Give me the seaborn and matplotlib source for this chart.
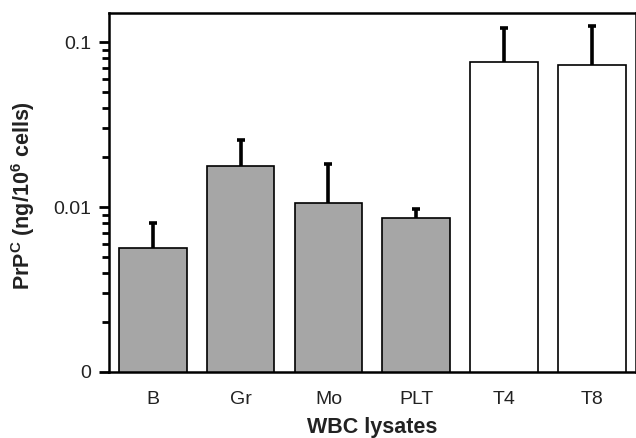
import matplotlib
matplotlib.use("Agg")
import matplotlib.pyplot as plt
import seaborn as sns
import numpy as np
import pandas as pd
from matplotlib.ticker import FixedLocator, LogLocator, NullFormatter, FixedFormatter

categories = ["B", "Gr", "Mo", "PLT", "T4", "T8"]
means = [0.00565, 0.0177, 0.0106, 0.00857, 0.0757, 0.0726]
upper = [0.0080, 0.0255, 0.0182, 0.0097, 0.1216, 0.125]
colors = ["#a6a6a6", "#a6a6a6", "#a6a6a6", "#a6a6a6", "#ffffff", "#ffffff"]
ytick_vals = [0.001, 0.01, 0.1]
ytick_labels = ["0", "0.01", "0.1"]

sns.set_theme(style="white")
plt.rcParams["font.family"] = ["Liberation Sans", "DejaVu Sans"]
plt.rcParams["mathtext.fontset"] = "custom"
plt.rcParams["mathtext.rm"] = "Liberation Sans"
plt.rcParams["mathtext.bf"] = "Liberation Sans:bold"

fig = plt.figure(figsize=(6.36, 4.38), dpi=100)
ax = fig.add_axes([0.171, 0.151, 0.829, 0.819])

df = pd.DataFrame({"cat": categories, "val": means})
ax.set_yscale("log")
sns.barplot(data=df, x="cat", y="val", hue="cat", palette=colors, legend=False,
            edgecolor="black", linewidth=1.2, width=0.77, ax=ax, saturation=1)

x = np.arange(len(categories))
yerr = [np.zeros(len(means)), np.array(upper) - np.array(means)]
ax.errorbar(x, means, yerr=yerr, fmt="none", ecolor="black", elinewidth=2.6,
            capsize=0, zorder=1)
ax.plot(x, upper, linestyle="none", marker="_", markersize=5.5, markeredgewidth=2.6,
        color="black", zorder=1)

ax.set_ylim(0.001, 0.15)
ax.set_xlim(-0.5, 5.5)
ax.yaxis.set_major_locator(FixedLocator(ytick_vals))
ax.yaxis.set_major_formatter(FixedFormatter(ytick_labels))
ax.yaxis.set_minor_locator(LogLocator(base=10, subs=np.arange(2, 10)))
ax.yaxis.set_minor_formatter(NullFormatter())

ax.set_xticks(x)
ax.set_xticklabels(categories)
ax.set_xticks(np.arange(-0.5, 6.0, 1.0), minor=True)
ax.tick_params(axis="x", which="major", length=0, pad=14, labelsize=14, colors="#222222")
ax.tick_params(axis="x", which="minor", length=5, width=2, direction="out", color="black")
ax.tick_params(axis="y", which="major", length=7.5, width=2, direction="out", labelsize=14,
               pad=5, color="black", labelcolor="#222222", left=True)
ax.tick_params(axis="y", which="minor", length=5, width=2, direction="out", color="black", left=True)

for s in ax.spines.values():
    s.set_linewidth(1.8)
    s.set_color("black")
    s.set_visible(True)

ax.set_xlabel("WBC lysates", fontsize=15.5, fontweight="bold", labelpad=6, color="#222222")
ax.set_ylabel(r"PrP$^{\mathbf{C}}$ (ng/10$^{\mathbf{6}}$ cells)", fontsize=15.5,
              fontweight="bold", color="#222222")
ax.yaxis.set_label_coords(-(109 - 37) / (0.829 * 636), 0.493)

fig.savefig("out.png", dpi=100)
